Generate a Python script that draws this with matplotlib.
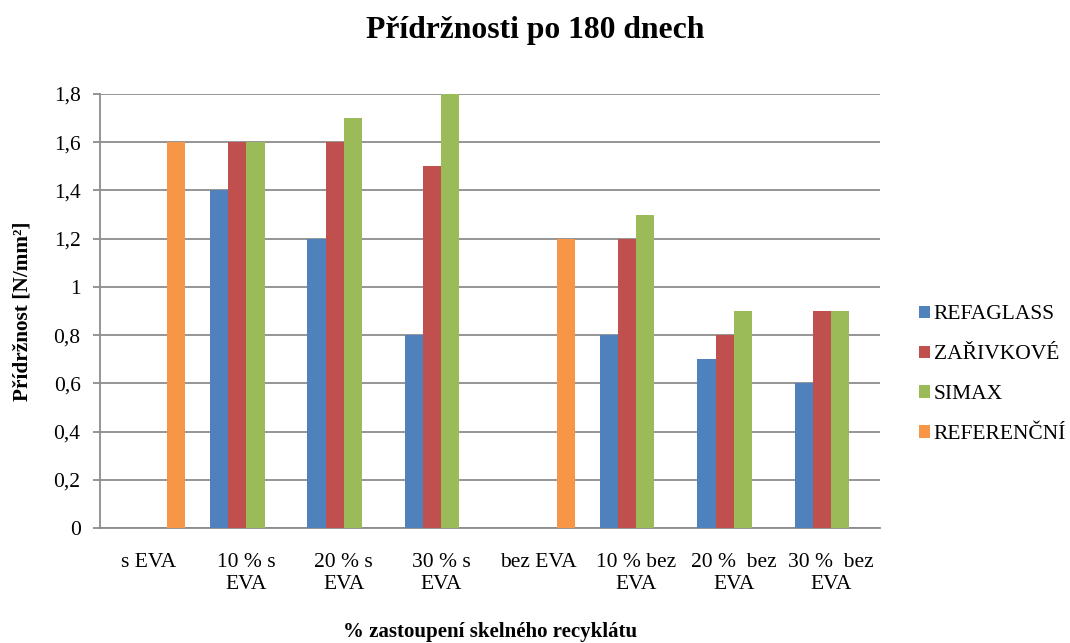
import numpy as np
import matplotlib
matplotlib.use('Agg')
import matplotlib.pyplot as plt
from matplotlib.ticker import FuncFormatter

plt.rcParams['font.family'] = ['Liberation Serif', 'DejaVu Serif']

categories = ['s EVA', '10 % s\nEVA', '20 % s\nEVA', '30 % s\nEVA',
              'bez EVA', '10 % bez\nEVA', '20 %  bez\nEVA', '30 %  bez\nEVA']
refaglass = [np.nan, 1.4, 1.2, 0.8, np.nan, 0.8, 0.7, 0.6]
zarivkove = [np.nan, 1.6, 1.6, 1.5, np.nan, 1.2, 0.8, 0.9]
simax = [np.nan, 1.6, 1.7, 1.8, np.nan, 1.3, 0.9, 0.9]
referencni = [1.6, np.nan, np.nan, np.nan, 1.2, np.nan, np.nan, np.nan]

series = [('REFAGLASS', refaglass, '#4F81BD'),
          ('ZAŘIVKOVÉ', zarivkove, '#C0504D'),
          ('SIMAX', simax, '#9BBB59'),
          ('REFERENČNÍ', referencni, '#F79646')]

fig = plt.figure(figsize=(10.7, 6.43), dpi=100)
ax = fig.add_axes([0.0935, 0.1788, 0.7289, 0.675])

x = np.arange(len(categories))
w = 0.187
for i, (name, vals, col) in enumerate(series):
    ax.bar(x + (i - 1.5) * w, vals, w, color=col, label=name, zorder=3)

ax.set_xlim(-0.5, len(categories) - 0.5)
ax.set_ylim(0, 1.8)
ax.set_yticks(np.arange(0, 1.81, 0.2))
ax.yaxis.set_major_formatter(FuncFormatter(lambda v, p: f'{v:.1f}'.rstrip('0').rstrip('.').replace('.', ',')))
ax.grid(axis='y', color='#8c8c8c', linewidth=1.3, zorder=0)

for s in ['top', 'right']:
    ax.spines[s].set_visible(False)
for s in ['left', 'bottom']:
    ax.spines[s].set_color('#8c8c8c')
    ax.spines[s].set_linewidth(1.3)

ax.set_xticks(x)
ax.set_xticklabels(categories, fontsize=15.5, linespacing=1.2, va='top')
ax.tick_params(axis='x', length=0, pad=18)
ax.tick_params(axis='y', length=5, color='#8c8c8c', width=1.3, labelsize=15.5, pad=9)

ax.set_ylabel('Přídržnost [N/mm²]', fontsize=15.3, fontweight='bold', labelpad=15)
ax.set_xlabel('% zastoupení skelného recyklátu', fontsize=15, fontweight='bold', labelpad=20)
fig.suptitle('Přídržnosti po 180 dnech', fontsize=22.8, fontweight='bold', y=0.975)

leg = ax.legend(loc='center left', bbox_to_anchor=(1.025, 0.353), frameon=False,
                fontsize=15.5, handlelength=0.5, handleheight=0.5, handletextpad=0.2,
                labelspacing=0.97)

fig.savefig('out.png', dpi=100)
